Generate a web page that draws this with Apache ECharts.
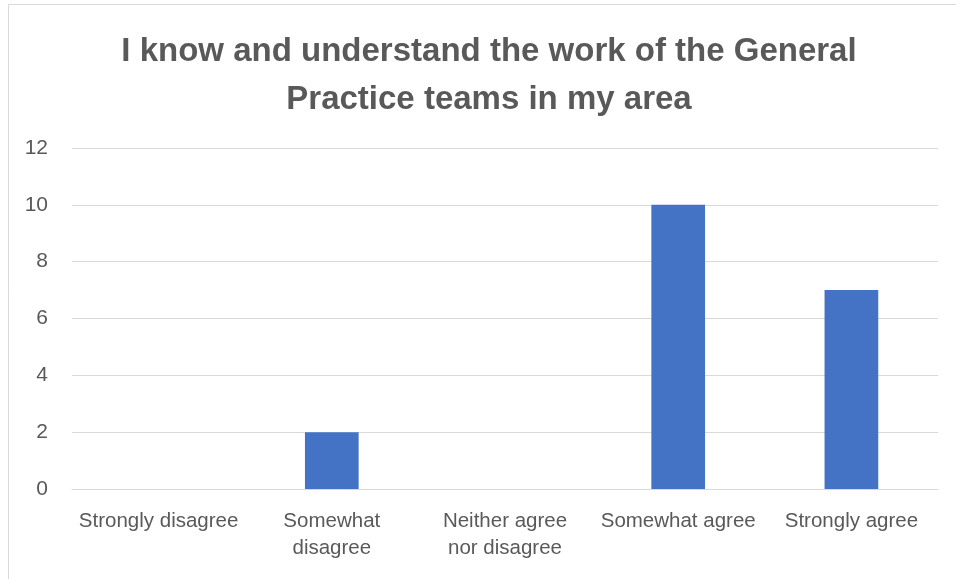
<!DOCTYPE html>
<html>
<head>
<meta charset="utf-8">
<script src="https://cdn.jsdelivr.net/npm/echarts@6/dist/echarts.min.js"></script>
<style>html,body{margin:0;padding:0;background:#fff}#c{width:956px;height:579px}</style>
</head>
<body>
<div id="c"></div>
<script>
var titleText = "I know and understand the work of the General\nPractice teams in my area";
var categories = ["Strongly disagree", "Somewhat\ndisagree", "Neither agree\nnor disagree", "Somewhat agree", "Strongly agree"];
var values = [0, 2, 0, 10, 7];
var yTicks = {min: 0, max: 12, interval: 2};

var chart = echarts.init(document.getElementById('c'), null, {renderer: 'canvas'});
chart.setOption({
  animation: false,
  backgroundColor: '#fff',
  graphic: [{
    type: 'rect', shape: {x: 8.5, y: 4.5, width: 960, height: 590},
    style: {fill: 'none', stroke: '#D9D9D9', lineWidth: 1}, silent: true
  }],
  title: {
    text: titleText, left: 484, top: 23, textAlign: 'center',
    textStyle: {fontFamily: 'Liberation Sans', fontWeight: 'bold', fontSize: 33, color: '#595959', lineHeight: 48}
  },
  grid: {left: 72, right: 18, top: 148, bottom: 90, containLabel: false},
  xAxis: {
    type: 'category', data: categories,
    axisLine: {show: true, lineStyle: {color: '#D9D9D9', width: 1}},
    axisTick: {show: false},
    axisLabel: {color: '#595959', fontFamily: 'Liberation Sans', fontSize: 20.5, lineHeight: 27, margin: 19, interval: 0}
  },
  yAxis: {
    type: 'value', min: yTicks.min, max: yTicks.max, interval: yTicks.interval,
    axisLine: {show: false}, axisTick: {show: false},
    splitLine: {lineStyle: {color: '#D9D9D9', width: 1}},
    axisLabel: {color: '#595959', fontFamily: 'Liberation Sans', fontSize: 21, margin: 24, align: 'right'}
  },
  series: [{
    type: 'bar', data: values, barWidth: '31%',
    itemStyle: {color: '#4472C4'}
  }]
});
</script>
</body>
</html>
